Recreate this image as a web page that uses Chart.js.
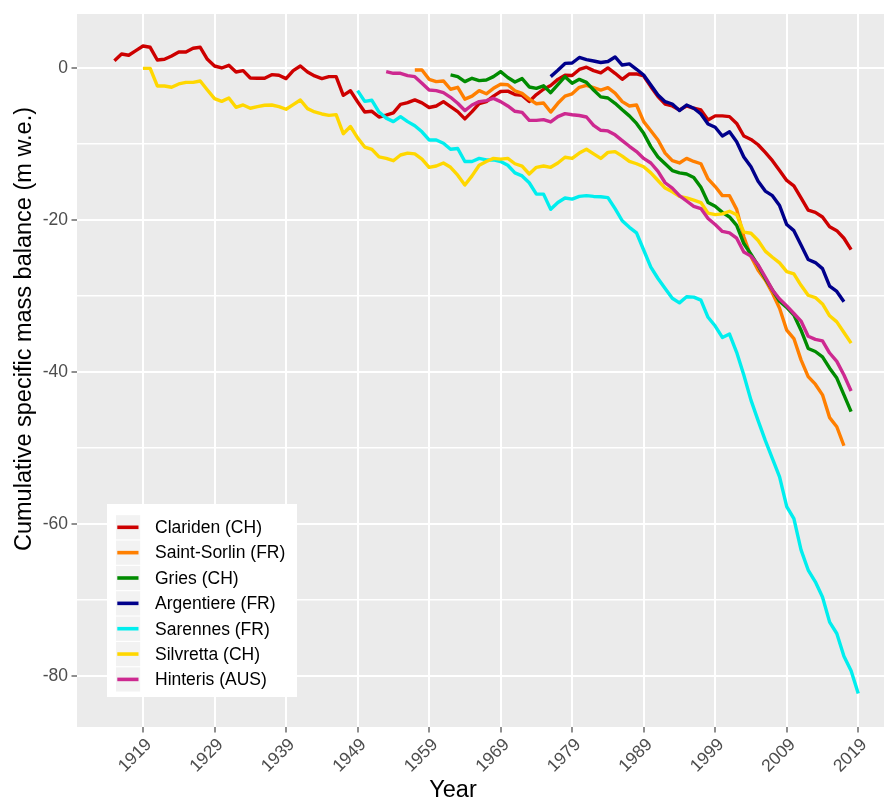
<!DOCTYPE html>
<html>
<head>
<meta charset="utf-8">
<title>Cumulative specific mass balance of Alpine glaciers</title>
<script src="https://cdn.jsdelivr.net/npm/chart.js@4.4.1/dist/chart.umd.min.js"></script>
<style>
  html, body { margin: 0; padding: 0; background: #ffffff; }
  canvas { display: block; }
</style>
</head>
<body>
<canvas id="massBalance" width="885" height="801"></canvas>
<script>
// Glacier names, in legend order
const glaciers = [
  'Clariden (CH)', 'Saint-Sorlin (FR)', 'Gries (CH)', 'Argentiere (FR)',
  'Sarennes (FR)', 'Silvretta (CH)', 'Hinteris (AUS)'
];

// First year of each record (same order as glaciers)
const firstYears = [1915, 1957, 1962, 1976, 1949, 1919, 1953];

// Cumulative specific mass balance, m w.e., one value per year
const clariden = [
  0.96, 1.84, 1.67, 2.28, 2.89, 2.72, 1.05, 1.14, 1.58, 2.10,
  2.10, 2.59, 2.72, 1.14, 0.26, 0.00, 0.35, -0.53, -0.35, -1.32,
  -1.36, -1.36, -0.88, -0.96, -1.40, -0.35, 0.26, -0.53, -1.05, -1.40,
  -1.14, -1.14, -3.6, -3.0, -4.45, -5.8, -5.7, -6.45, -6.2, -5.9,
  -4.8, -4.56, -4.2, -4.6, -5.2, -5.0, -4.43, -5.1, -5.75, -6.7,
  -5.75, -4.7, -4.43, -3.7, -3.1, -3.05, -3.5, -3.6, -4.4, -3.5,
  -2.8, -2.3, -1.5, -0.95, -1.0, -0.2, 0.1, -0.35, -0.65, 0.0,
  -0.7, -1.49, -0.79, -0.79, -1.05, -2.46, -3.77, -4.74, -5.0, -5.53,
  -5.0, -5.3, -5.53, -6.84, -6.3, -6.3, -6.4, -7.3, -8.95, -9.4,
  -10.1, -11.1, -12.2, -13.5, -14.8, -15.5, -17.1, -18.7, -19.0, -19.6,
  -20.9, -21.4, -22.4, -23.9
];
const saintSorlin = [
  -0.26, -0.26, -1.49, -1.8, -1.71, -2.8, -2.54, -4.1, -3.7, -2.98,
  -3.4, -2.68, -2.15, -2.2, -3.0, -3.35, -4.1, -4.7, -4.6, -5.8,
  -4.65, -3.7, -3.4, -2.55, -2.3, -2.6, -2.9, -2.6, -3.3, -4.43,
  -5.0, -4.87, -7.06, -8.25, -9.47, -11.2, -12.2, -12.5, -11.9, -12.3,
  -12.6, -14.6, -15.6, -16.8, -16.8, -18.6, -22.2, -24.8, -26.6, -27.9,
  -29.6, -31.6, -34.5, -35.6, -38.4, -40.6, -41.6, -43.0, -46.0, -47.2,
  -49.7
];
const gries = [
  -0.92, -1.14, -1.8, -1.36, -1.67, -1.58, -1.14, -0.48, -1.25, -1.85,
  -1.4, -2.5, -2.68, -2.35, -3.25, -2.2, -1.14, -2.0, -1.5, -1.9,
  -2.9, -3.8, -3.95, -4.65, -5.5, -6.3, -7.3, -8.6, -10.35, -11.7,
  -12.6, -13.5, -13.8, -13.95, -14.4, -15.7, -17.7, -18.2, -19.0, -19.6,
  -20.7, -23.1, -24.5, -26.0, -27.7, -29.2, -30.7, -31.5, -32.5, -34.5,
  -36.9, -37.3, -38.0, -39.5, -40.8, -43.0, -45.2
];
const argentiere = [
  -1.14, -0.3, 0.6, 0.65, 1.38, 1.1, 0.92, 0.72, 0.85, 1.45,
  0.39, 0.53, -0.17, -0.92, -2.24, -3.55, -4.43, -4.74, -5.6, -4.87,
  -5.3, -6.05, -7.37, -7.8, -8.95, -8.4, -9.7, -11.7, -13.0, -14.9,
  -16.2, -16.8, -18.1, -20.6, -21.4, -23.3, -25.2, -25.6, -26.4, -28.7,
  -29.4, -30.75
];
const sarennes = [
  -2.98, -4.4, -4.25, -5.8, -6.6, -7.06, -6.4, -7.06, -7.6, -8.4,
  -9.47, -9.47, -9.9, -10.7, -10.6, -12.3, -12.3, -11.9, -12.1, -12.1,
  -12.3, -12.8, -13.8, -14.2, -15.1, -16.6, -16.6, -18.6, -17.7, -17.1,
  -17.25, -16.9, -16.8, -16.9, -16.95, -17.05, -18.5, -20.1, -20.96, -21.7,
  -23.95, -26.2, -27.7, -29.0, -30.3, -30.9, -30.1, -30.15, -30.55, -32.8,
  -33.95, -35.45, -35.0, -37.4, -40.4, -43.7, -46.4, -49.0, -51.4, -53.8,
  -57.7, -59.3, -63.4, -66.05, -67.6, -69.6, -72.9, -74.4, -77.4, -79.3,
  -82.3
];
const silvretta = [
  -0.05, -0.05, -2.37, -2.37, -2.54, -2.1, -1.89, -1.89, -1.71, -2.89,
  -4.04, -4.39, -3.95, -5.17, -4.87, -5.3, -5.09, -4.91, -4.87, -5.09,
  -5.43, -4.83, -4.21, -5.35, -5.79, -6.05, -6.23, -6.14, -8.65, -7.7,
  -9.2, -10.4, -10.7, -11.7, -11.9, -12.2, -11.45, -11.2, -11.3, -12.0,
  -13.07, -12.9, -12.5, -13.07, -14.1, -15.4, -14.2, -12.8, -12.3, -11.9,
  -12.0, -11.9, -12.6, -12.9, -13.95, -13.07, -12.9, -13.07, -12.5, -11.75,
  -11.9, -11.2, -10.7, -11.3, -11.9, -11.1, -11.0, -11.6, -12.3, -12.6,
  -13.0, -13.8, -14.8, -15.8, -16.3, -16.9, -17.1, -17.4, -17.7, -19.1,
  -19.3, -19.2, -18.85, -19.3, -21.6, -21.75, -22.7, -24.1, -24.9, -25.65,
  -26.8, -27.1, -28.6, -29.9, -30.2, -31.05, -32.6, -33.4, -34.8, -36.2
];
const hinteris = [
  -0.48, -0.7, -0.7, -1.0, -1.14, -2.0, -2.9, -2.98, -3.25, -3.86,
  -4.65, -5.6, -4.87, -4.43, -4.3, -4.0, -4.43, -5.0, -5.7, -5.85,
  -6.9, -6.9, -6.8, -7.1, -6.4, -6.0, -6.15, -6.25, -6.45, -7.55,
  -8.2, -8.28, -8.8, -9.56, -10.3, -11.0, -11.9, -12.5, -13.6, -15.1,
  -15.8, -16.8, -17.5, -18.2, -18.5, -19.8, -20.6, -21.5, -21.7, -22.4,
  -24.2, -24.75, -25.9, -27.5, -29.2, -30.4, -31.3, -32.3, -33.3, -35.3,
  -35.7, -35.9, -37.5, -38.6, -40.4, -42.5
];

const balances = [clariden, saintSorlin, gries, argentiere, sarennes, silvretta, hinteris];

// Axis breaks and titles
const yearTicks = [1919, 1929, 1939, 1949, 1959, 1969, 1979, 1989, 1999, 2009, 2019];
const balanceGrid = [0, -10, -20, -30, -40, -50, -60, -70, -80];
const balanceLabelled = [0, -20, -40, -60, -80];
const xTitle = 'Year';
const yTitle = 'Cumulative specific mass balance (m w.e.)';

// Line colours per glacier
const lineColours = ['#CD0000', '#FF7F00', '#008B00', '#00008B', '#00EEEE', '#FFD700', '#CD2990'];

const FONT = '"Liberation Sans", Arial, Helvetica, sans-serif';

const datasets = glaciers.map((name, i) => ({
  label: name,
  data: balances[i].map((v, k) => ({ x: firstYears[i] + k, y: v })),
  borderColor: lineColours[i],
  backgroundColor: lineColours[i],
  borderWidth: 3.4,
  borderJoinStyle: 'round',
  borderCapStyle: 'butt',
  pointRadius: 0,
  pointHoverRadius: 0,
  tension: 0,
  fill: false,
  order: glaciers.length - 1 - i
}));

// Grey panel behind the data
const panelBackground = {
  id: 'panelBackground',
  beforeDraw(chart) {
    const { ctx, chartArea: a } = chart;
    ctx.save();
    ctx.fillStyle = '#EBEBEB';
    ctx.fillRect(a.left, a.top, a.right - a.left, a.bottom - a.top);
    ctx.restore();
  }
};

// Axis titles, placed relative to the panel
const axisTitles = {
  id: 'axisTitles',
  afterDraw(chart) {
    const { ctx, chartArea: a } = chart;
    ctx.save();
    ctx.fillStyle = '#000000';
    ctx.font = '23.5px ' + FONT;
    ctx.textBaseline = 'alphabetic';
    ctx.textAlign = 'center';
    ctx.fillText(xTitle, a.left + 376, a.bottom + 70);
    ctx.translate(31, a.top + 315);
    ctx.rotate(-Math.PI / 2);
    ctx.fillText(yTitle, 0, 0);
    ctx.restore();
  }
};

// Legend boxed inside the bottom-left corner of the panel
const insetLegend = {
  id: 'insetLegend',
  afterDraw(chart) {
    const { ctx, chartArea: a } = chart;
    const sets = chart.data.datasets;
    const rowH = 25.35, key = 24.2;
    const boxW = 190, boxH = 193;
    const bx = a.left + 30, by = a.bottom - 30 - boxH;
    ctx.save();
    ctx.fillStyle = '#FFFFFF';
    ctx.fillRect(bx, by, boxW, boxH);
    ctx.font = '17.5px ' + FONT;
    ctx.textAlign = 'left';
    ctx.textBaseline = 'middle';
    sets.forEach((ds, i) => {
      const cy = by + 23.3 + i * rowH;
      ctx.fillStyle = '#F2F2F2';
      ctx.fillRect(bx + 9, cy - key / 2, key, key);
      ctx.strokeStyle = ds.borderColor;
      ctx.lineWidth = 3.6;
      ctx.lineCap = 'butt';
      ctx.beginPath();
      ctx.moveTo(bx + 10.3, cy);
      ctx.lineTo(bx + 31.5, cy);
      ctx.stroke();
      ctx.fillStyle = '#000000';
      ctx.fillText(ds.label, bx + 48, cy + 1);
    });
    ctx.restore();
  }
};

new Chart(document.getElementById('massBalance'), {
  type: 'line',
  data: { datasets },
  plugins: [panelBackground, axisTitles, insetLegend],
  options: {
    responsive: false,
    devicePixelRatio: 1,
    animation: false,
    events: [],
    layout: { padding: { top: 14, right: 1, bottom: 0, left: 0 } },
    plugins: {
      legend: { display: false },
      tooltip: { enabled: false },
      title: { display: false }
    },
    scales: {
      x: {
        type: 'linear',
        min: 1909.77,
        max: 2022.6,
        afterBuildTicks: s => { s.ticks = yearTicks.map(v => ({ value: v })); },
        afterFit: s => { s.height = 74; },
        border: { display: false },
        grid: {
          color: '#FFFFFF',
          lineWidth: 2,
          drawTicks: true,
          tickLength: 5.5,
          tickWidth: 1.1,
          tickColor: '#333333'
        },
        ticks: {
          autoSkip: false,
          minRotation: 45,
          maxRotation: 45,
          padding: 2,
          labelOffset: 6,
          color: '#4D4D4D',
          font: { family: FONT, size: 17.5 },
          callback: v => String(v)
        },
        title: { display: false }
      },
      y: {
        type: 'linear',
        min: -86.7,
        max: 7.1,
        afterBuildTicks: s => { s.ticks = balanceGrid.map(v => ({ value: v })); },
        afterFit: s => { s.width = 77; },
        border: { display: false },
        grid: {
          color: '#FFFFFF',
          lineWidth: c => (balanceLabelled.includes(c.tick && c.tick.value) ? 2 : 1.4),
          drawTicks: true,
          tickLength: 5.5,
          tickWidth: 1.1,
          tickColor: c => (balanceLabelled.includes(c.tick && c.tick.value) ? '#333333' : 'rgba(0,0,0,0)')
        },
        ticks: {
          autoSkip: false,
          padding: 3.5,
          color: '#4D4D4D',
          font: { family: FONT, size: 17.5 },
          callback: v => (balanceLabelled.includes(v) ? String(v) : '')
        },
        title: { display: false }
      }
    }
  }
});
</script>
</body>
</html>
